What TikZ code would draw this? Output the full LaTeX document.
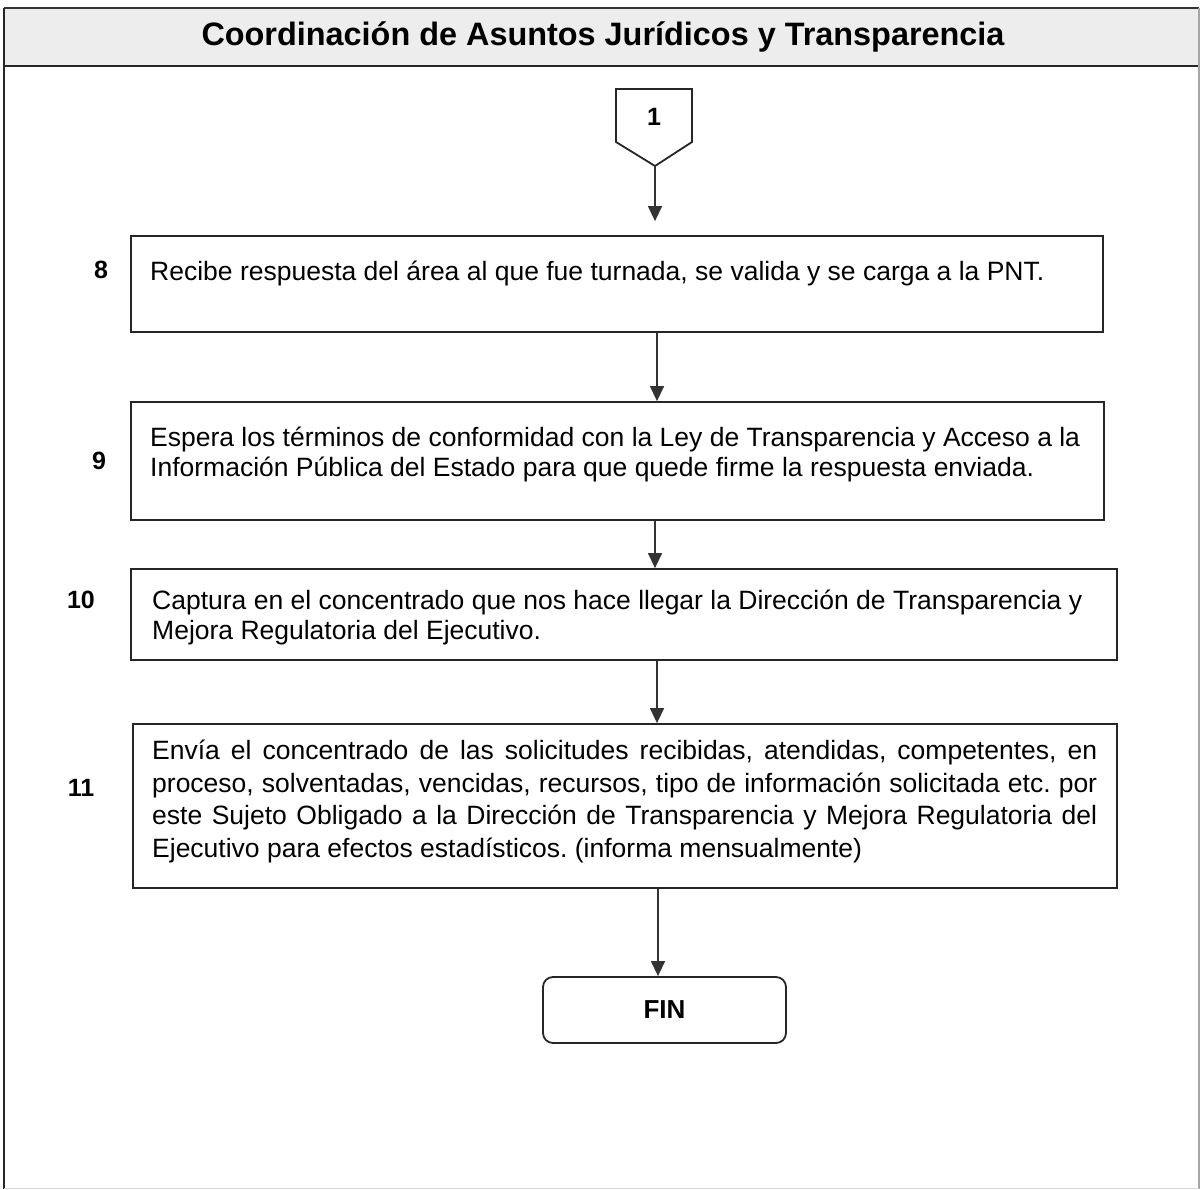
\documentclass[tikz,border=0pt]{standalone}
\usepackage{fontspec}
\setmainfont{Liberation Sans}
\frenchspacing
\usetikzlibrary{arrows.meta}
\begin{document}
\begin{tikzpicture}[x=1pt,y=-1pt,
  box/.style={draw=black!85,line width=1.8pt,minimum width=#1,inner sep=0pt},
  txt/.style={anchor=base west,inner sep=0pt,font=\fontsize{26.5}{30}\selectfont},
  num/.style={anchor=center,inner sep=0pt,font=\bfseries\fontsize{25}{28}\selectfont},
  arr/.style={draw=black!80,line width=1.4pt,-{Triangle[width=14pt,length=15pt]}}]
\useasboundingbox (0,0) rectangle (1202,1190);
% outer frame and header
\fill[black!7] (4,8) rectangle (1199,66);
\draw[black!80,line width=1.6pt] (4,8) -- (1199,8);
\draw[black!85,line width=2pt] (4,66) -- (1199,66);
\draw[black!85,line width=1.6pt] (4,8) -- (4,1189);
\draw[black!35,line width=1.2pt] (1199,8) -- (1199,1189);
\draw[black!15,line width=1pt] (4,1188) -- (1199,1188);
\node[inner sep=0pt,font=\bfseries\fontsize{32.4}{36}\selectfont] (title) at (603,37) {Coordinación de Asuntos Jurídicos y Transparencia};
% off-page connector 1
\draw[black!85,line width=1.8pt,line join=miter] (616,89) -- (692,89) -- (692,142) -- (655,166) -- (616,142) -- cycle;
\coordinate (c1tip) at (655,166);
\node[num] (c1) at (654,117) {1};
% boxes
\node[box=972pt,minimum height=96pt] (b8) at (617,284) {};
\node[box=973pt,minimum height=118pt] (b9) at (617.5,461) {};
\node[box=986pt,minimum height=91pt] (b10) at (624,614.5) {};
\node[box=984pt,minimum height=164pt] (b11) at (625,806) {};
\node[draw=black!85,line width=1.8pt,rounded corners=10pt,minimum width=243pt,minimum height=66pt,inner sep=0pt,font=\bfseries\fontsize{26}{29}\selectfont] (fin) at (664.5,1010) {FIN};
% step numbers
\node[num] (n8) at (101,270) {8};
\node[num] (n9) at (99,461) {9};
\node[num] (n10) at (81,600) {10};
\node[num] (n11) at (81,788) {11};
% texts
\node[txt] (t8) at (150,281) {Recibe respuesta del área al que fue turnada, se valida y se carga a la PNT.};
\node[txt] (t9a) at (150,446) {Espera los términos de conformidad con la Ley de Transparencia y Acceso a la};
\node[txt] (t9b) at (150,476) {Información Pública del Estado para que quede firme la respuesta enviada.};
\node[txt] (t10a) at (152,609) {Captura en el concentrado que nos hace llegar la Dirección de Transparencia y};
\node[txt] (t10b) at (152,639) {Mejora Regulatoria del Ejecutivo.};
\node[txt] (t11a) at (152,759) {\hbox to 945pt{Envía el concentrado de las solicitudes recibidas, atendidas, competentes, en}};
\node[txt] (t11b) at (152,792) {\hbox to 945pt{proceso, solventadas, vencidas, recursos, tipo de información solicitada etc. por}};
\node[txt] (t11c) at (152,824) {\hbox to 945pt{este Sujeto Obligado a la Dirección de Transparencia y Mejora Regulatoria del}};
\node[txt] (t11d) at (152,857) {Ejecutivo para efectos estadísticos. (informa mensualmente)};
% connectors
\draw[arr,shorten >=14pt] (c1tip) -- (c1tip |- b8.north);
\draw[arr] (657,0 |- b8.south) -- (657,0 |- b9.north);
\draw[arr] (655,0 |- b9.south) -- (655,0 |- b10.north);
\draw[arr] (657,0 |- b10.south) -- (657,0 |- b11.north);
\draw[arr] (658,0 |- b11.south) -- (658,0 |- fin.north);
\end{tikzpicture}
\end{document}
